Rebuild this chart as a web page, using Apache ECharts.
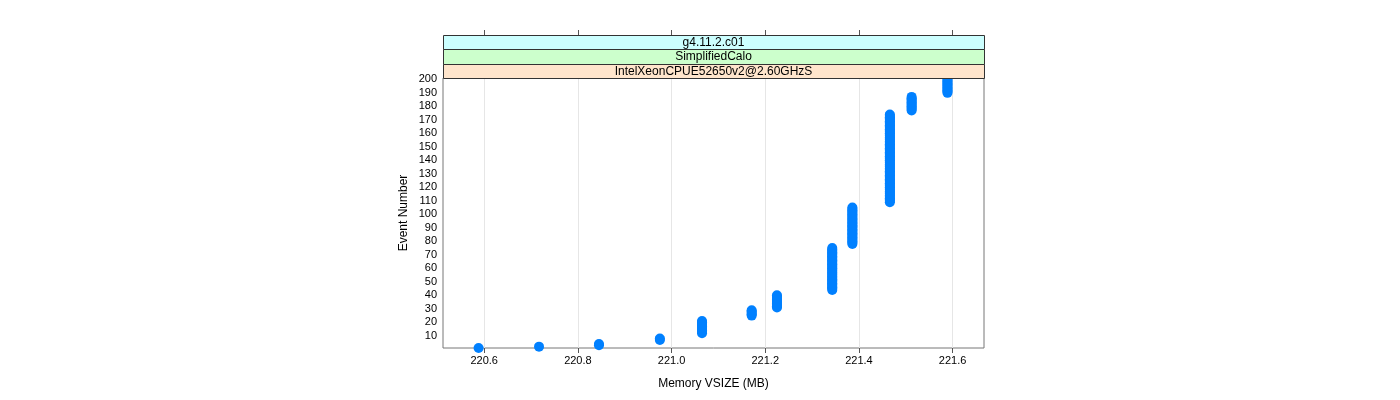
<!DOCTYPE html>
<html>
<head>
<meta charset="utf-8">
<script src="https://cdn.jsdelivr.net/npm/echarts@6/dist/echarts.min.js"></script>
<style>
html,body{margin:0;padding:0;background:#fff;}
#chart{width:1400px;height:400px;}
</style>
</head>
<body>
<div id="chart"></div>
<script>
// Memory VSIZE (MB) value of each run of events, and first/last event number of the run
var groupMemory = [220.588, 220.717, 220.845, 220.975, 221.065, 221.171, 221.225, 221.343, 221.386, 221.466, 221.5125, 221.589];
var groupFirstEvent = [1, 2, 3, 7, 12, 25, 31, 44, 78, 109, 177, 190];
var groupLastEvent  = [1, 2, 4, 8, 21, 29, 40, 75, 105, 174, 187, 200];
var xTicks = [220.6, 220.8, 221.0, 221.2, 221.4, 221.6];
var yTicks = [10,20,30,40,50,60,70,80,90,100,110,120,130,140,150,160,170,180,190,200];
var stripLabels = ["g4.11.2.c01", "SimplifiedCalo", "IntelXeonCPUE52650v2@2.60GHzS"];
var stripColors = ["#CCFFFF", "#CCFFCC", "#FFE5CC"];

var points = [];
for (var g = 0; g < groupMemory.length; g++) {
  for (var e = groupFirstEvent[g]; e <= groupLastEvent[g]; e++) {
    points.push([groupMemory[g], e]);
  }
}

var FONT = "Liberation Sans";
var gridL = 443, gridT = 78, gridW = 541, gridH = 270;
var stripH = [14, 15, 14];
var graphics = [];
var yy = gridT - stripH[0] - stripH[1] - stripH[2];
for (var s = 0; s < stripLabels.length; s++) {
  graphics.push({
    type: 'rect', left: gridL, top: yy, z: 10,
    shape: {width: gridW, height: stripH[s]},
    style: {fill: stripColors[s], stroke: '#333', lineWidth: 1}
  });
  graphics.push({
    type: 'text', x: gridL + gridW / 2, y: yy + stripH[s] / 2 + 0.5, z: 11,
    style: {text: stripLabels[s], fill: '#000', font: '12px "' + FONT + '"', align: 'center', verticalAlign: 'middle'}
  });
  yy += stripH[s];
}

var chart = echarts.init(document.getElementById('chart'), null, {renderer: 'canvas'});
chart.setOption({
  animation: false,
  backgroundColor: '#fff',
  textStyle: {fontFamily: FONT},
  grid: {left: gridL, top: gridT, width: gridW, height: gridH, show: true, borderColor: '#777', borderWidth: 1, backgroundColor: 'transparent'},
  graphic: graphics,
  xAxis: [{
    type: 'value', min: 220.512, max: 221.667, position: 'bottom',
    axisLine: {show: false},
    axisTick: {show: true, inside: false, length: 5, customValues: xTicks, lineStyle: {color: '#555'}},
    axisLabel: {customValues: xTicks, fontSize: 11, color: '#000', margin: 7, fontFamily: FONT,
      formatter: function (v) { return v.toFixed(1); }},
    splitLine: {show: true, lineStyle: {color: '#e6e6e6', width: 1}},
    name: 'Memory VSIZE (MB)', nameLocation: 'middle', nameGap: 30,
    nameTextStyle: {fontSize: 12, color: '#000', fontFamily: FONT}
  }, {
    type: 'value', min: 220.512, max: 221.667, position: 'top', offset: 43,
    axisLine: {show: false},
    axisTick: {show: true, inside: false, length: 5, customValues: xTicks, lineStyle: {color: '#555'}},
    axisLabel: {show: false},
    splitLine: {show: false}
  }],
  yAxis: {
    type: 'value', min: 1, max: 201,
    axisLine: {show: false},
    axisTick: {show: false, customValues: yTicks},
    axisLabel: {customValues: yTicks, fontSize: 11, color: '#000', margin: 6, fontFamily: FONT},
    splitLine: {show: false},
    name: 'Event Number', nameLocation: 'middle', nameGap: 33, nameRotate: 90,
    nameTextStyle: {fontSize: 12, color: '#000', fontFamily: FONT}
  },
  series: [{
    type: 'scatter', xAxisIndex: 0, yAxisIndex: 0,
    data: points, symbol: 'circle', symbolSize: 10,
    itemStyle: {color: '#0080FF', opacity: 1},
    clip: true
  }]
});
</script>
</body>
</html>
